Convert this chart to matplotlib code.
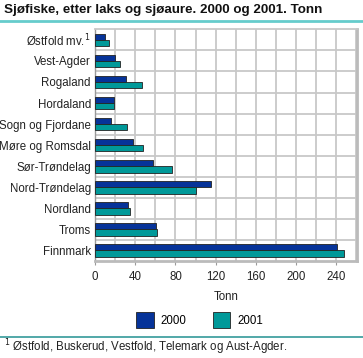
import matplotlib
matplotlib.use("Agg")
import matplotlib.pyplot as plt
import numpy as np
from matplotlib.lines import Line2D
from matplotlib.patches import Patch

plt.rcParams["font.family"] = ["Liberation Sans", "DejaVu Sans"]

counties = [
    "Østfold mv.$^{1}$",
    "Vest-Agder",
    "Rogaland",
    "Hordaland",
    "Sogn og Fjordane",
    "Møre og Romsdal",
    "Sør-Trøndelag",
    "Nord-Trøndelag",
    "Nordland",
    "Troms",
    "Finnmark",
]
tonn_2000 = [10, 20, 31, 19, 16, 38, 58, 115, 33, 61, 241]
tonn_2001 = [14, 25, 47, 19, 32, 48, 77, 100, 35, 62, 248]
x_ticks = [0, 40, 80, 120, 160, 200, 240]

col_2000 = "#063399"
col_2001 = "#009999"
grid_col = "#c8c8c8"

fig = plt.figure(figsize=(3.63, 3.58), dpi=100)
ax = fig.add_axes([0.262, 0.271, 0.722, 0.647])

n = len(counties)
y = np.arange(n)
h = 0.3
ax.barh(y - h / 2, tonn_2000, height=h, color=col_2000, edgecolor="#222222", linewidth=0.6, zorder=3)
ax.barh(y + h / 2, tonn_2001, height=h, color=col_2001, edgecolor="#222222", linewidth=0.6, zorder=3)

ax.set_ylim(n - 0.5, -0.5)
ax.set_xlim(0, 261)

# grid: vertical every 20, horizontal between categories
for gx in range(20, 261, 20):
    ax.axvline(gx, color=grid_col, lw=1.3, zorder=1)
for gy in np.arange(0.5, n - 0.5, 1):
    ax.axhline(gy, color=grid_col, lw=1.3, zorder=1)

ax.set_yticks(y)
ax.set_yticklabels(counties, fontsize=8.3, color="#222222")
ax.set_xticks(x_ticks)
ax.set_xticklabels([str(v) for v in x_ticks], fontsize=8.3, color="#222222")
ax.tick_params(axis="y", length=0, pad=3)
ax.tick_params(axis="x", length=3, color="#999999", pad=4)
ax.set_xlabel("Tonn", fontsize=8.3, color="#222222", labelpad=6)

ax.spines["top"].set_color(grid_col)
ax.spines["top"].set_linewidth(1.3)
ax.spines["right"].set_color("#bbbbbb")
ax.spines["right"].set_linewidth(2)
ax.spines["bottom"].set_color("#bbbbbb")
ax.spines["bottom"].set_linewidth(2)
ax.spines["left"].set_color("#999999")
ax.spines["left"].set_linewidth(1.0)

fig.text(0.012, 0.972, "Sjøfiske, etter laks og sjøaure. 2000 og 2001. Tonn",
         fontsize=9.6, fontweight="bold", va="center", ha="left", color="#111111")
fig.add_artist(Line2D([0, 1], [0.941, 0.941], color="#66cccc", lw=2))
fig.add_artist(Line2D([0, 1], [0.059, 0.059], color="#339999", lw=1.2))

handles = [
    Patch(facecolor=col_2000, edgecolor="#222222", linewidth=0.6),
    Patch(facecolor=col_2001, edgecolor="#222222", linewidth=0.6),
]
fig.legend(handles, ["2000", "2001"], loc="center", bbox_to_anchor=(0.55, 0.106),
           ncol=2, frameon=False, fontsize=8.3, handlelength=1.5, handleheight=1.8,
           columnspacing=2.3, handletextpad=0.6)

fig.text(0.012, 0.03, "$^{1}$ Østfold, Buskerud, Vestfold, Telemark og Aust-Agder.",
         fontsize=8.3, va="center", ha="left", color="#222222")

fig.savefig("out.png", dpi=100)
